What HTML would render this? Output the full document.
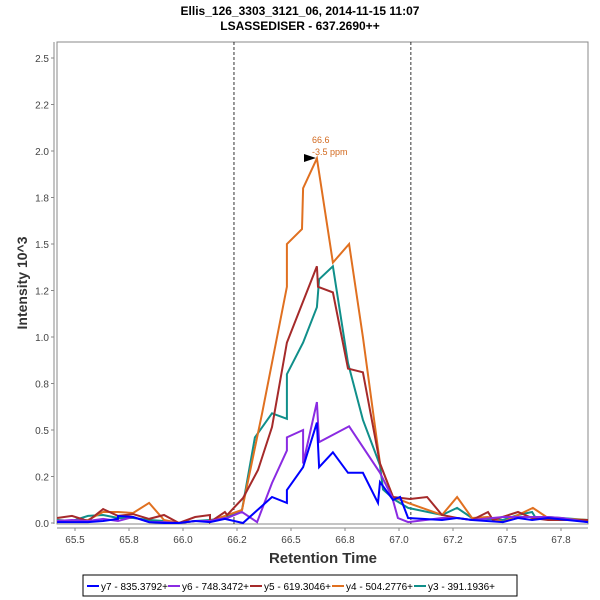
<!DOCTYPE html>
<html><head><meta charset="utf-8"><style>
body{margin:0;background:#fff;}
svg{display:block;font-family:"Liberation Sans",sans-serif;}
</style></head><body>
<svg id="chart" width="600" height="600">
<text x="300" y="15" text-anchor="middle" font-size="12" font-weight="bold" fill="#000">Ellis_126_3303_3121_06, 2014-11-15 11:07</text>
<text x="300" y="30" text-anchor="middle" font-size="12" font-weight="bold" fill="#000">LSASSEDISER - 637.2690++</text>
<rect x="57" y="42" width="531" height="482" fill="#fff" stroke="#888"/>
<g id="axes"></g>
<g id="series"></g>
<text transform="translate(27,283) rotate(-90)" text-anchor="middle" font-size="14" font-weight="bold" fill="#333">Intensity 10^3</text>
<text x="323" y="563" text-anchor="middle" font-size="15" font-weight="bold" fill="#333">Retention Time</text>
<g>
<text x="312" y="143" font-size="9" fill="#d2691e">66.6</text>
<text x="312" y="155" font-size="9" fill="#d2691e">-3.5 ppm</text>
<polygon points="304,154 316,158 304,162" fill="#000"/>
</g>
<g>
<rect x="83" y="575" width="434" height="21" fill="#fff" stroke="#000"/>
<g id="legend"></g>
</g>
</svg>
<script>
const xTicks=[65.5,65.75,66.0,66.25,66.5,66.75,67.0,67.25,67.5,67.75];
const xTickLabels=["65.5","65.8","66.0","66.2","66.5","66.8","67.0","67.2","67.5","67.8"];
const yTicks=[0,0.25,0.5,0.75,1.0,1.25,1.5,1.75,2.0,2.25,2.5];
const yTickLabels=["0.0","0.2","0.5","0.8","1.0","1.2","1.5","1.8","2.0","2.2","2.5"];
const boundaryTimes=[66.236,67.055];
const seriesNames=["y7 - 835.3792+","y6 - 748.3472+","y5 - 619.3046+","y4 - 504.2776+","y3 - 391.1936+"];
const seriesColors=["#0000ff","#8a2be2","#a52a2a","#e07020","#108f8a"];
const y7Times=[65.417,65.486,65.560,65.630,65.699,65.699,65.769,65.843,65.912,65.981,66.056,66.125,66.194,66.278,66.412,66.481,66.481,66.556,66.620,66.630,66.694,66.764,66.833,66.903,66.912,66.972,67.005,67.042,67.199,67.269,67.338,67.481,67.551,67.616,67.690,67.875];
const y7Values=[.005,.005,.005,.011,.022,.038,.032,.005,0,0,.011,.005,.022,0,.14,.108,.177,.30,.54,.30,.38,.27,.27,.108,.22,.124,.14,.027,.016,.027,.016,.005,.027,.016,.027,.005];
const y6Times=[65.417,65.486,65.560,65.630,65.699,65.769,65.843,65.912,65.981,66.056,66.125,66.194,66.204,66.273,66.343,66.412,66.481,66.481,66.556,66.556,66.620,66.630,66.769,66.912,66.968,66.995,67.042,67.199,67.269,67.338,67.481,67.551,67.690,67.755,67.875];
const y6Values=[.011,.016,.011,.022,.011,.032,.005,.005,0,.011,.011,.027,.027,.059,.005,.215,.39,.46,.50,.32,.65,.435,.52,.27,.14,.027,.005,.027,.027,.016,.032,.032,.032,.027,.005];
const y5Times=[65.417,65.486,65.560,65.630,65.699,65.769,65.843,65.912,65.981,66.056,66.125,66.125,66.194,66.204,66.278,66.347,66.412,66.481,66.620,66.625,66.694,66.764,66.833,66.912,66.972,67.051,67.130,67.199,67.269,67.338,67.412,67.435,67.551,67.616,67.690,67.875];
const y5Values=[.027,.038,.011,.075,.038,.048,.022,.043,0,.032,.043,.005,.059,.043,.134,.285,.516,.97,1.38,1.27,1.24,.83,.81,.32,.14,.129,.14,.043,.027,.016,.059,.016,.059,.027,.016,.016];
const y4Times=[65.417,65.560,65.630,65.699,65.769,65.843,65.912,65.981,66.056,66.125,66.194,66.273,66.366,66.481,66.481,66.551,66.556,66.620,66.694,66.769,66.833,66.912,66.972,67.042,67.199,67.269,67.338,67.412,67.481,67.551,67.620,67.690,67.875];
const y4Values=[.011,.016,.059,.059,.054,.108,.016,0,.011,.011,.038,.07,.59,1.27,1.50,1.58,1.80,1.96,1.40,1.50,1.0,.32,.14,.108,.043,.14,.027,.032,.005,.043,.081,.027,.016];
const y3Times=[65.417,65.486,65.560,65.630,65.699,65.769,65.843,65.912,65.981,66.056,66.125,66.194,66.273,66.333,66.412,66.481,66.481,66.556,66.620,66.630,66.694,66.764,66.833,66.912,66.926,66.981,67.042,67.199,67.269,67.338,67.481,67.551,67.616,67.630,67.690,67.875];
const y3Values=[.016,.011,.038,.043,.027,.027,.016,.011,0,.011,.016,.027,.07,.46,.59,.56,.80,.97,1.16,1.31,1.38,.86,.555,.31,.18,.124,.081,.043,.081,.027,.016,.043,.059,.032,.032,.016];

const X0=57,X1=588,Y0=524,Y1=42;
function xs(t){return 183+(t-66)*216;}
function ys(v){return 523-v*186;}
const NS="http://www.w3.org/2000/svg";
function mk(tag,attrs,parent){const e=document.createElementNS(NS,tag);for(const k in attrs)e.setAttribute(k,attrs[k]);parent.appendChild(e);return e;}
const axes=document.getElementById('axes');
let ax=mk('line',{x1:54,y1:Y1,x2:54,y2:Y0,stroke:'#888'},axes);


let bx=mk('line',{x1:X0,y1:528,x2:X1,y2:528,stroke:'#888'},axes);


yTicks.forEach((v,i)=>{
  const y=ys(v);
  const tk=mk('line',{x1:51,y1:y,x2:54,y2:y,stroke:'#888'},axes);
  
  
  const t=mk('text',{x:49,y:y+4,'text-anchor':'end','font-size':10,fill:'#444'},axes);
  t.textContent=yTickLabels[i];
  
  
});
xTicks.forEach((v,i)=>{
  const x=xs(v);
  const tk=mk('line',{x1:x,y1:528,x2:x,y2:531,stroke:'#888'},axes);
  
  
  const t=mk('text',{x:x,y:543,'text-anchor':'middle','font-size':10,fill:'#444'},axes);
  t.textContent=xTickLabels[i];
  
  
});
boundaryTimes.forEach(b=>{
  const l=mk('line',{x1:xs(b),y1:Y1,x2:xs(b),y2:Y0,stroke:'#000','stroke-dasharray':'3,2','stroke-width':0.8},axes);
  
  
});
const seriesG=document.getElementById('series');
const allT=[y7Times,y6Times,y5Times,y4Times,y3Times];
const allV=[y7Values,y6Values,y5Values,y4Values,y3Values];
const drawOrder=[4,3,2,1,0];
drawOrder.forEach(i=>{
  const pts=allT[i].map((t,j)=>xs(t).toFixed(1)+','+ys(allV[i][j]).toFixed(1)).join(' ');
  const p=mk('polyline',{points:pts,fill:'none',stroke:seriesColors[i],'stroke-width':2,'stroke-linejoin':'miter'},seriesG);
  
  
});
const lg=document.getElementById('legend');
const lx=[87,168,250,332,414];
seriesNames.forEach((n,i)=>{
  const l=mk('line',{x1:lx[i],y1:586,x2:lx[i]+12,y2:586,stroke:seriesColors[i],'stroke-width':2},lg);
  
  
  const t=mk('text',{x:lx[i]+14,y:590,'font-size':10,fill:'#000'},lg);
  t.textContent=n;
  
  
});
</script>
</body></html>
